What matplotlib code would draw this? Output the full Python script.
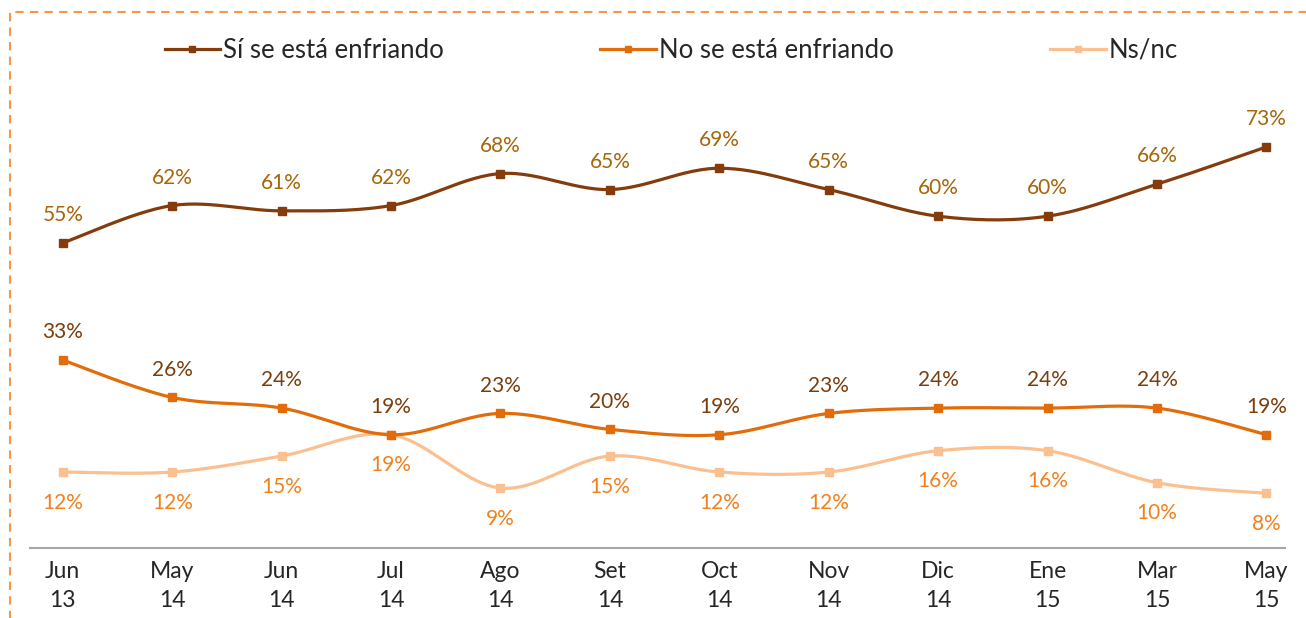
import numpy as np
import matplotlib
matplotlib.use("Agg")
import matplotlib.pyplot as plt
from matplotlib.patches import Rectangle

categories = ["Jun\n13", "May\n14", "Jun\n14", "Jul\n14", "Ago\n14", "Set\n14",
              "Oct\n14", "Nov\n14", "Dic\n14", "Ene\n15", "Mar\n15", "May\n15"]
si_enfriando = [55, 62, 61, 62, 68, 65, 69, 65, 60, 60, 66, 73]
no_enfriando = [33, 26, 24, 19, 23, 20, 19, 23, 24, 24, 24, 19]
ns_nc = [12, 12, 15, 19, 9, 15, 12, 12, 16, 16, 10, 8]
series_names = ["Sí se está enfriando", "No se está enfriando", "Ns/nc"]

plt.rcParams['font.family'] = ['Lato', 'DejaVu Sans']

line_colors = ["#843C0C", "#E36C0A", "#FAC090"]
label_colors = ["#A5660A", "#7A3E0C", "#F0811E"]
label_offsets = [20, 20, -22]


def smooth(x, y, n=30):
    x = np.asarray(x, float)
    y = np.asarray(y, float)
    P = np.column_stack([x, y])
    pts = []
    for i in range(len(P) - 1):
        p0 = P[i - 1] if i > 0 else P[i]
        p1 = P[i]
        p2 = P[i + 1]
        p3 = P[i + 2] if i + 2 < len(P) else P[i + 1]
        c1 = p1 + (p2 - p0) / 6.0
        c2 = p2 - (p3 - p1) / 6.0
        t = np.linspace(0, 1, n)[:, None]
        seg = ((1 - t) ** 3) * p1 + 3 * ((1 - t) ** 2) * t * c1 + 3 * (1 - t) * t ** 2 * c2 + t ** 3 * p2
        pts.append(seg if i == 0 else seg[1:])
    pts = np.vstack(pts)
    return pts[:, 0], pts[:, 1]


fig = plt.figure(figsize=(13.06, 6.18), dpi=100)
ax = fig.add_axes([30 / 1306, 1 - 548 / 618, (1285 - 30) / 1306, (548 - 109.6) / 618])

x = np.arange(len(categories))
all_series = [si_enfriando, no_enfriando, ns_nc]
handles = []
for k in [2, 1, 0]:
    vals = all_series[k]
    sx, sy = smooth(x, vals)
    ax.plot(sx, sy, color=line_colors[k], lw=2.3, solid_capstyle='round', zorder=2 + (2 - k))
    ax.plot(x, vals, linestyle='none', marker='s', ms=6, color=line_colors[k], zorder=3 + (2 - k))
for k in range(3):
    vals = all_series[k]
    for xi, v in zip(x, vals):
        ax.annotate(f"{v}%", (xi, v), xytext=(0, label_offsets[k]), textcoords='offset points',
                    ha='center', va='center', fontsize=15, color=label_colors[k], zorder=10)

for k in range(3):
    h, = ax.plot([], [], color=line_colors[k], lw=2.3, marker='s', ms=5)
    handles.append(h)

ax.set_xlim(-0.3, len(categories) - 1 + 0.17)
ax.set_ylim(-2.25, 80)
ax.set_yticks([])
ax.set_xticks(x)
ax.set_xticklabels(categories, fontsize=16.5, color="#262626", linespacing=1.5)
ax.tick_params(axis='x', length=0, pad=9)
for s in ['top', 'right', 'left']:
    ax.spines[s].set_visible(False)
ax.spines['bottom'].set_color('#A6A6A6')
ax.spines['bottom'].set_linewidth(1.5)

fig.legend(handles, series_names, loc='center', bbox_to_anchor=(0.514, 1 - 50 / 618), ncol=3,
           frameon=False, fontsize=18.5, columnspacing=6.1, handlelength=2.15, handletextpad=0.12,
           labelcolor="#262626")

fig.patches.append(Rectangle((10 / 1306, -0.05), 1.1, 1 - 12 / 618 + 0.05, transform=fig.transFigure,
                             fill=False, edgecolor="#F79646", lw=1.5, linestyle=(0, (4, 3)), zorder=0))

fig.savefig("out.png", dpi=100)
